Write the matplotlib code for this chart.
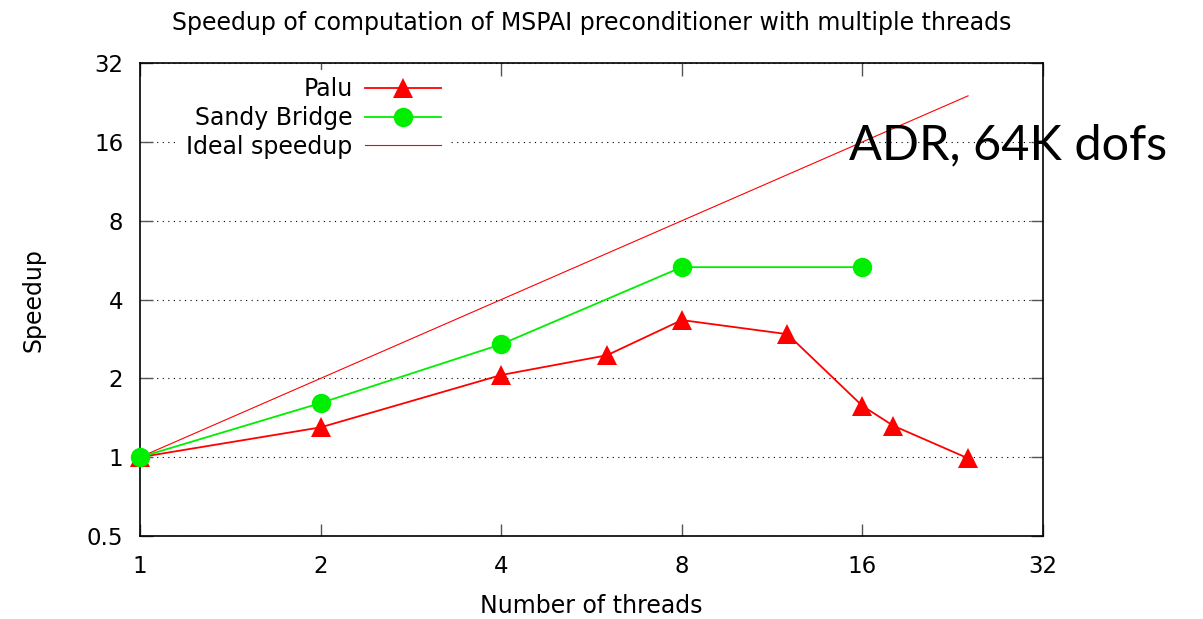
import matplotlib
matplotlib.use("Agg")
import matplotlib.pyplot as plt
from matplotlib.ticker import FixedLocator, NullLocator

# data
palu_threads = [1, 2, 4, 6, 8, 12, 16, 18, 24]
palu_speedup = [1.0, 1.30, 2.06, 2.45, 3.34, 2.95, 1.57, 1.32, 0.99]

sandy_threads = [1, 2, 4, 8, 16]
sandy_speedup = [1.0, 1.61, 2.70, 5.32, 5.32]

ideal_threads = [1, 24]
ideal_speedup = [1, 24]

x_ticks = [1, 2, 4, 8, 16, 32]
y_ticks = [0.5, 1, 2, 4, 8, 16, 32]

fig = plt.figure(figsize=(12.03, 6.19), dpi=100)
ax = fig.add_axes([0.1164, 0.1341, 0.7506, 0.7639])

ax.set_xscale("log", base=2)
ax.set_yscale("log", base=2)
ax.set_xlim(1, 32)
ax.set_ylim(0.5, 32)

ax.plot(palu_threads, palu_speedup, color="#ff0000", lw=1.3, marker="^",
        ms=15, mew=0, label="Palu", clip_on=False, zorder=4)
ax.plot(sandy_threads, sandy_speedup, color="#00ee00", lw=1.3, marker="o",
        ms=14, mew=0, label="Sandy Bridge", clip_on=False, zorder=5)
ax.plot(ideal_threads, ideal_speedup, color="#ff0000", lw=0.8,
        label="Ideal speedup", zorder=3)

ax.xaxis.set_major_locator(FixedLocator(x_ticks))
ax.yaxis.set_major_locator(FixedLocator(y_ticks))
ax.xaxis.set_minor_locator(NullLocator())
ax.yaxis.set_minor_locator(NullLocator())
ax.set_xticklabels([str(t) for t in x_ticks])
ax.set_yticklabels(["0.5", "1", "2", "4", "8", "16", "32"])
ax.tick_params(direction="in", length=9, width=1, labelsize=16.5,
               top=True, right=True, colors="#555555", labelcolor="black")
ax.tick_params(axis="x", pad=14)
ax.tick_params(axis="y", pad=12)

ax.yaxis.grid(True, linestyle=(0, (1, 4)), color="black", lw=0.8)
ax.set_axisbelow(True)
for s in ax.spines.values():
    s.set_linewidth(1.2)

ax.set_xlabel("Number of threads", fontsize=17, labelpad=11)
ax.set_ylabel("Speedup", fontsize=17, labelpad=30)
ax.set_title("Speedup of computation of MSPAI preconditioner with multiple threads",
             fontsize=17, pad=24)

leg = ax.legend(loc="upper right", bbox_to_anchor=(448 / 1203, 1 - 70 / 619),
                bbox_transform=fig.transFigure, markerfirst=False,
                frameon=True, fontsize=17, handlelength=3.2, labelspacing=0.2,
                borderaxespad=0, borderpad=0.3, handletextpad=0.55)
leg.get_frame().set_edgecolor("none")
leg.get_frame().set_facecolor("white")
leg.get_frame().set_alpha(1)
leg.get_frame().set_boxstyle("square", pad=0)
leg._legend_box.align = "right"

fig.text(1008 / 1203, 1 - 145 / 619, "ADR, 64K dofs", fontsize=35,
         family="Lato", ha="center", va="center")

fig.savefig("out.png", dpi=100)
